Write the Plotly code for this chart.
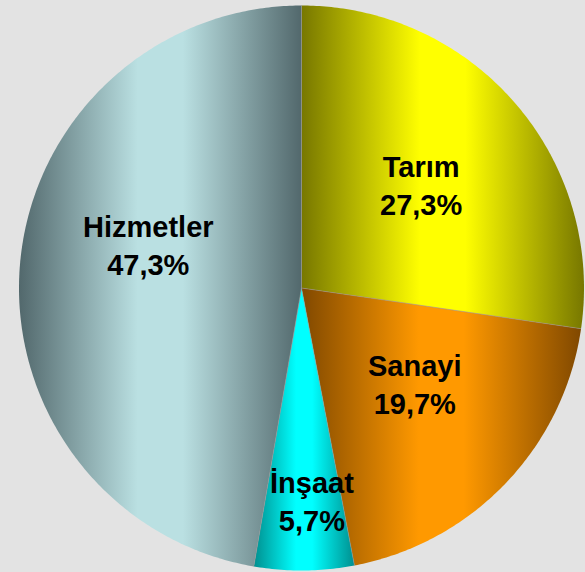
import numpy as np
import plotly.graph_objects as go

# ---- data ----
sectors = ["Tarım", "Sanayi", "İnşaat", "Hizmetler"]
shares = [27.3, 19.7, 5.7, 47.3]
share_labels = ["27,3%", "19,7%", "5,7%", "47,3%"]

# ---- style ----
dark_colors = ["#777700", "#804800", "#008f8f", "#52686c"]
light_colors = ["#ffff00", "#ff9900", "#00ffff", "#bae0e2"]
label_radius = [0.556, 0.528, 0.759, 0.563]
label_shift_deg = [0.4, -3.2, -2.3, 10.4]
BG = "#e3e3e3"

# pixel geometry of the pie inside the 585x572 page
W, H = 585, 572
CX, CY, R = 301.5, 288.0, 282.5
x_range = [-CX / R, (W - CX) / R]
y_range = [-(H - CY) / R, CY / R]

fig = go.Figure()
total = sum(shares)
start = 0.0
annotations = []
for i, (name, val) in enumerate(zip(sectors, shares)):
    a0 = start / total * 2 * np.pi
    a1 = (start + val) / total * 2 * np.pi
    n = max(int(val * 6), 12)
    th = np.linspace(a0, a1, n)
    xs = np.concatenate([[0.0], np.sin(th), [0.0]])
    ys = np.concatenate([[0.0], np.cos(th), [0.0]])
    fig.add_trace(go.Scatter(
        x=xs, y=ys, mode="none", fill="toself",
        fillgradient=dict(type="horizontal",
                          colorscale=[[0, dark_colors[i]], [0.42, light_colors[i]],
                                      [0.58, light_colors[i]], [1, dark_colors[i]]]),
        name=name, hoverinfo="skip", showlegend=False,
    ))
    mid = (a0 + a1) / 2 + np.deg2rad(label_shift_deg[i])
    annotations.append(dict(
        x=label_radius[i] * np.sin(mid), y=label_radius[i] * np.cos(mid),
        xref="x", yref="y", showarrow=False,
        text=f"{name}<br>{share_labels[i]}",
        font=dict(family="Liberation Sans, Arial, sans-serif", size=29,
                  color="#000000", weight="bold"),
        align="center", xanchor="center", yanchor="middle",
    ))
    start += val

# thin separators between slices
start = 0.0
for val in shares:
    a = start / total * 2 * np.pi
    fig.add_trace(go.Scatter(x=[0, np.sin(a)], y=[0, np.cos(a)], mode="lines",
                             line=dict(color="rgba(150,150,150,0.7)", width=0.8),
                             hoverinfo="skip", showlegend=False))
    start += val

fig.update_layout(
    width=W, height=H,
    margin=dict(l=0, r=0, t=0, b=0),
    paper_bgcolor=BG, plot_bgcolor=BG,
    xaxis=dict(range=x_range, visible=False, fixedrange=True),
    yaxis=dict(range=y_range, visible=False, fixedrange=True),
    annotations=annotations,
    showlegend=False,
)

fig.write_html(
    "out.html",
    config={"displayModeBar": False},
    post_script=f"document.body.style.margin='0';document.body.style.background='{BG}';",
)
